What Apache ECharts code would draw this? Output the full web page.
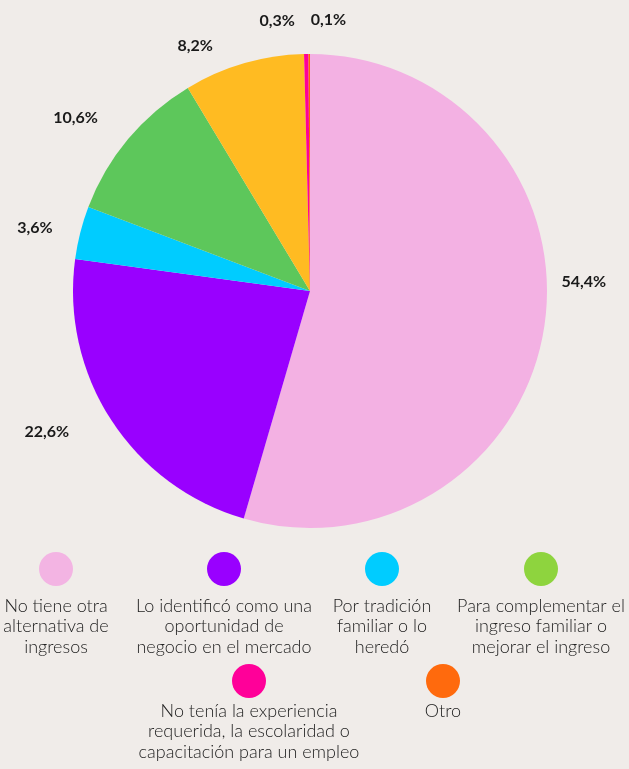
<!DOCTYPE html>
<html>
<head>
<meta charset="utf-8">
<script src="https://cdn.jsdelivr.net/npm/echarts@6/dist/echarts.min.js"></script>
<style>
  html, body { margin: 0; padding: 0; background: #f0ece9; }
  #chart { width: 629px; height: 769px; }
</style>
</head>
<body>
<div id="chart"></div>
<script>
// categories and values, clockwise from the top
var categories = [
  "No tiene otra\nalternativa de\ningresos",
  "Lo identificó como una\noportunidad de\nnegocio en el mercado",
  "Por tradición\nfamiliar o lo\nheredó",
  "Para complementar el\ningreso familiar o\nmejorar el ingreso",
  "No tenía la experiencia\nrequerida, la escolaridad o\ncapacitación para un empleo",
  "Otro"
];
var values = [54.4, 22.6, 3.6, 10.6, 8.2, 0.3, 0.1];
var pieColors = ["#f3b1e3", "#9900ff", "#00ccff", "#5dc75b", "#ffbb22", "#ff0099", "#ff6600"];
var legendColors = ["#f3b4e3", "#9900ff", "#00ccff", "#8ed43e", "#ff0099", "#ff6a0d"];

// label nudges after outside placement
var labelShift = [[0, -44], [-27, 5], [-16, -2], [-21, -14], [32, -32], [78, -39], [42, -22]];

var chart = echarts.init(document.getElementById("chart"), null, { renderer: "canvas" });

var pieData = values.map(function (v, i) {
  return { value: v, name: "s" + i, itemStyle: { color: pieColors[i] } };
});

// legend: circles on top, centred text beneath
var legendPos = [[56, 569], [224, 569], [382, 569], [541, 569], [249, 681], [443, 681]];
var textGap = [26.5, 26.5, 26.5, 26.5, 19.5, 19.5];
var legendGraphics = [];
categories.forEach(function (name, i) {
  legendGraphics.push({
    type: "circle",
    shape: { cx: legendPos[i][0], cy: legendPos[i][1], r: 17 },
    style: { fill: legendColors[i] },
    silent: true
  });
  legendGraphics.push({
    type: "text",
    x: legendPos[i][0],
    y: legendPos[i][1] + textGap[i],
    style: {
      text: name,
      fill: "#222",
      font: "300 18px Lato",
      lineHeight: 20.5,
      align: "center",
      verticalAlign: "top"
    },
    silent: true
  });
});

chart.setOption({
  backgroundColor: "#f0ece9",
  animation: false,
  series: [
    {
      type: "pie",
      center: [310, 291],
      radius: 237,
      startAngle: 90,
      clockwise: true,
      data: pieData,
      label: {
        show: true,
        position: "outside",
        formatter: function (p) {
          return String(p.value).replace(".", ",") + "%";
        },
        fontFamily: "Lato",
        fontWeight: "bold",
        fontSize: 16,
        color: "#1a1a1a"
      },
      labelLine: { show: false, length: 12, length2: 0 },
      labelLayout: function (p) {
        return { dx: labelShift[p.dataIndex][0], dy: labelShift[p.dataIndex][1] };
      },
      emphasis: { disabled: true }
    }
  ],
  graphic: legendGraphics
});
</script>
</body>
</html>
